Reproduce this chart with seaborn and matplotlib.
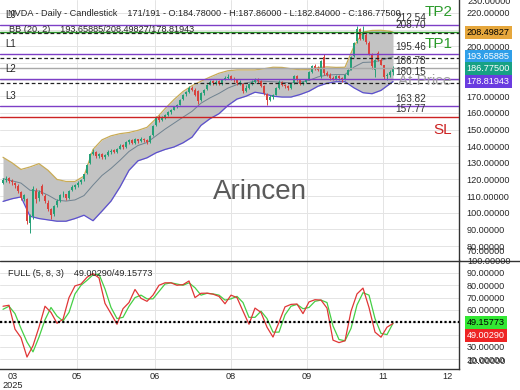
import numpy as np
import pandas as pd
import matplotlib
matplotlib.use("Agg")
import matplotlib.pyplot as plt
from matplotlib.lines import Line2D
from matplotlib.transforms import blended_transform_factory
import seaborn as sns

# ---------------- data ----------------
bar_open = [118.0, 119.5, 121.0, 119.0, 118.0, 116.0, 112.5, 108.0, 108.0, 94.0,
            98.0, 113.0, 109.0, 116.0, 110.0, 106.0, 102.0, 99.0, 104.5, 107.5,
            111.0, 111.0, 109.0, 113.5, 115.5, 116.5, 118.5, 120.0, 124.0, 130.0,
            135.5, 136.5, 134.0, 135.5, 133.5, 134.5, 136.5, 137.5, 136.5, 138.5,
            140.5, 139.5, 142.5, 143.5, 142.0, 144.0, 143.0, 144.5, 143.5, 142.5,
            146.5, 152.5, 157.5, 155.5, 157.5, 159.0, 160.5, 162.0, 164.0, 165.0,
            168.5, 171.5, 172.5, 175.0, 174.0, 173.0, 167.5, 172.0, 174.5, 177.0,
            179.0, 178.0, 179.0, 177.5, 180.0, 181.0, 182.0, 180.0, 179.5, 178.0,
            177.5, 173.0, 175.0, 177.5, 178.5, 180.0, 179.0, 176.0, 171.5, 168.0,
            169.5, 171.0, 175.0, 178.5, 177.0, 176.0, 175.0, 178.0, 182.0, 180.0,
            177.5, 178.5, 180.5, 184.5, 188.0, 187.0, 182.0, 193.5, 184.0, 182.8,
            181.0, 180.5, 182.0, 181.0, 180.0, 183.0, 186.0, 194.0, 203.0, 210.5,
            204.5, 207.0, 202.0, 195.5, 186.0, 196.0, 192.0, 188.5, 182.0, 183.0,
            184.78]
bar_high = [121.0, 122.0, 121.5, 120.0, 118.5, 117.0, 113.0, 111.5, 109.0, 99.5,
            116.0, 115.0, 113.5, 117.5, 111.5, 107.5, 103.0, 104.5, 108.0, 111.5,
            113.0, 111.5, 113.5, 116.5, 117.5, 119.0, 120.5, 123.5, 129.5, 136.0,
            138.0, 137.0, 136.0, 136.0, 135.5, 137.5, 138.0, 138.5, 139.0, 141.0,
            141.5, 143.0, 144.5, 144.0, 145.0, 144.5, 145.5, 145.0, 144.0, 146.5,
            152.5, 158.0, 158.5, 158.0, 159.5, 161.0, 162.5, 164.0, 165.5, 168.5,
            171.5, 173.0, 176.0, 176.0, 175.0, 174.0, 172.5, 174.5, 177.5, 179.5,
            180.0, 179.5, 180.0, 180.5, 182.0, 183.5, 182.5, 181.5, 180.0, 179.5,
            178.0, 177.0, 178.0, 179.5, 181.0, 181.0, 179.5, 176.5, 172.0, 170.5,
            171.5, 175.5, 179.5, 179.0, 177.5, 176.5, 178.0, 183.0, 183.0, 180.5,
            179.0, 180.5, 185.0, 188.5, 189.5, 188.0, 192.0, 195.5, 185.0, 184.0,
            182.0, 183.0, 182.5, 181.5, 183.5, 186.5, 194.0, 202.5, 212.2, 211.0,
            212.0, 208.0, 203.0, 196.0, 192.5, 197.0, 193.0, 189.0, 184.0, 186.0,
            187.86]
bar_low = [117.0, 118.5, 118.0, 116.5, 115.0, 112.0, 107.5, 107.0, 93.5, 88.0,
           96.0, 106.0, 107.0, 110.5, 106.0, 101.0, 96.5, 98.0, 103.5, 106.5,
           109.5, 107.5, 108.5, 113.0, 114.5, 115.5, 117.0, 119.0, 123.5, 129.5,
           134.5, 133.0, 133.0, 132.5, 132.5, 134.0, 135.5, 136.0, 136.0, 138.0,
           138.5, 139.0, 141.5, 141.0, 141.5, 142.0, 142.5, 142.5, 141.0, 142.0,
           146.0, 152.0, 154.5, 155.0, 156.5, 158.0, 159.5, 161.5, 163.0, 164.5,
           168.0, 170.0, 172.0, 173.0, 170.0, 165.5, 167.0, 171.0, 174.0, 176.5,
           177.0, 177.0, 176.5, 177.0, 179.5, 180.5, 179.5, 178.5, 177.0, 176.5,
           172.0, 172.5, 174.5, 177.0, 178.0, 178.0, 175.5, 171.0, 165.0, 167.0,
           168.5, 170.5, 174.5, 176.0, 175.0, 173.5, 174.5, 177.5, 179.0, 176.5,
           176.5, 178.0, 180.0, 184.0, 186.0, 185.0, 181.0, 183.0, 182.0, 180.0,
           179.5, 180.0, 180.0, 178.5, 179.5, 182.5, 185.5, 193.5, 202.0, 203.5,
           204.0, 201.5, 194.5, 186.5, 181.5, 191.0, 188.5, 180.5, 179.5, 181.5,
           182.84]
bar_close = [119.5, 120.5, 119.0, 118.6, 116.5, 113.0, 108.6, 110.5, 95.0, 98.0,
             114.5, 108.0, 112.5, 111.0, 107.0, 102.0, 98.5, 104.0, 107.0, 110.5,
             111.5, 108.6, 113.0, 115.5, 116.5, 118.0, 119.5, 123.0, 128.5, 135.3,
             136.5, 134.0, 135.5, 133.5, 134.5, 136.5, 137.0, 136.5, 138.3, 140.0,
             139.5, 142.4, 143.5, 142.0, 144.0, 143.0, 144.5, 143.5, 142.5, 146.0,
             152.0, 157.0, 155.5, 157.5, 159.0, 160.3, 162.0, 163.5, 165.0, 168.0,
             171.0, 172.5, 175.0, 174.0, 171.0, 167.0, 172.0, 174.0, 177.0, 178.7,
             178.0, 178.5, 177.5, 180.0, 181.0, 181.6, 180.0, 179.5, 178.0, 178.5,
             173.0, 175.0, 177.5, 178.5, 180.0, 179.0, 176.0, 172.0, 168.0, 169.5,
             171.0, 175.0, 178.7, 176.9, 176.0, 175.0, 177.5, 182.0, 180.0, 177.5,
             178.5, 180.0, 184.5, 188.0, 187.0, 185.8, 191.0, 184.0, 182.8, 181.0,
             180.5, 182.0, 181.0, 180.0, 182.8, 185.8, 193.5, 201.8, 210.5, 204.5,
             208.0, 202.4, 195.5, 188.0, 191.5, 192.0, 189.0, 181.5, 183.0, 184.6,
             186.775]

bb_index = [0, 3, 6, 9, 12, 15, 18, 21, 24, 27, 30, 33, 36, 39, 42, 45, 48, 51, 54, 57,
            60, 63, 66, 69, 72, 75, 78, 81, 84, 87, 90, 93, 96, 99, 102, 105, 108, 111,
            114, 117, 120, 123, 126, 129, 130]
bb_upper = [133.3, 130.0, 126.0, 127.5, 129.5, 125.5, 120.0, 118.8, 118.8, 122.0,
            138.0, 143.8, 146.2, 147.5, 148.2, 149.5, 151.3, 156.5, 162.5, 168.0,
            172.8, 176.3, 179.0, 181.5, 183.8, 185.3, 185.8, 185.8, 185.8, 186.5,
            187.4, 187.3, 186.5, 185.9, 186.0, 187.2, 187.6, 187.3, 187.4, 200.0,
            208.5, 209.5, 209.6, 209.0, 208.49827]
bb_middle = [120.5, 119.2, 117.8, 113.5, 113.0, 110.6, 107.5, 107.0, 107.7, 110.3,
             116.6, 122.4, 126.6, 131.5, 136.8, 140.4, 142.2, 146.2, 150.2, 153.8,
             157.4, 160.9, 165.8, 169.0, 171.7, 174.9, 177.0, 177.9, 179.1, 179.0,
             178.7, 178.4, 178.0, 178.5, 179.5, 181.6, 182.7, 183.0, 183.0, 187.5,
             190.3, 190.5, 191.5, 193.2, 193.65885]
bb_lower = [106.8, 108.4, 109.5, 97.9, 96.5, 95.7, 94.9, 94.9, 96.5, 98.5,
            95.2, 101.0, 107.0, 115.5, 125.5, 131.2, 133.0, 136.0, 138.0, 139.5,
            142.0, 145.4, 152.5, 156.5, 159.5, 164.5, 168.3, 170.0, 172.4, 171.5,
            170.0, 169.5, 169.5, 171.0, 173.0, 176.0, 177.8, 178.7, 178.7, 175.0,
            172.1, 171.5, 173.5, 177.5, 178.81943]

stoch_index = list(range(0, 131, 2))
stoch_k = [63, 63.8, 44.4, 37.5, 21.8, 31, 46, 63, 58, 49.2,
           52.4, 70, 79.5, 81, 86.5, 89.5, 86, 65.3, 57, 48.4,
           61, 66, 76.6, 69.4, 67, 72, 80, 82, 82, 80,
           80.5, 83.5, 70, 73.5, 73.6, 72.8, 71, 65, 72, 70,
           59, 48.4, 61.5, 58, 46, 38, 50, 62.5, 64.5, 64.8,
           57, 66.5, 68.3, 68, 61.5, 35.5, 33.5, 35, 58.9, 73,
           77.7, 62, 42, 37.9, 46, 49.0029]
stoch_d = [60.5, 63, 57, 45, 34, 26, 38, 52, 62, 55,
           51, 58, 73, 80, 84, 88.5, 89, 77, 62, 53,
           54, 63, 70, 72, 69, 69, 75, 81, 82, 81,
           80, 82, 78, 72, 73.5, 73, 72, 68, 69, 71,
           66, 54, 54, 59, 53, 42, 42, 56, 63, 64.5,
           61, 62, 67, 68, 66, 47, 36, 35, 45, 64,
           74, 72, 53, 41, 40, 49.15773]

level_names = ["L0", "L1", "L2", "L3"]
level_values = [212.54, 195.46, 180.15, 163.82]
tp2_value = 208.70
price_value = 186.78
sl_value = 157.77
bb_last = [193.65885, 208.49827, 178.81943]
last_close = 186.775
stoch_last = [49.00290, 49.15773]

xtick_pos = [3.33, 24.67, 50.67, 76.0, 101.33, 126.67, 148.0]
xtick_labels = ["03\n2025", "05", "06", "08", "09", "11", "12"]
price_ticks = [80, 90, 100, 110, 120, 130, 140, 150, 160, 170, 200, 220]
stoch_ticks = [20, 30, 60, 70, 80, 90]

title = ("NVDA - Daily - Candlestick    171/191 - O:184.78000 - H:187.86000 - "
         "L:182.84000 - C:186.77500")

# ---------------- style ----------------
sns.set_theme(style="white")
plt.rcParams['font.family'] = ['Liberation Sans', 'DejaVu Sans']

W, H = 520, 390
def fx(x): return x / W
def fy(y): return 1 - y / H

UP, DOWN = '#25a077', '#d9433e'
TXT = '#262626'
FS = 6.6

fig = plt.figure(figsize=(5.2, 3.9), dpi=100)
fig.patch.set_facecolor('white')
ax = fig.add_axes([0, 130 / H, 459 / W, 260 / H])
ax2 = fig.add_axes([0, 21 / H, 459 / W, 109 / H])
for a in (ax, ax2):
    a.set_facecolor('white')
    for s in ('top', 'left'):
        a.spines[s].set_visible(False)
    a.spines['right'].set_color('#333333')
    a.spines['right'].set_linewidth(1.0)
ax.spines['bottom'].set_visible(False)
ax2.spines['bottom'].set_color('#333333')
ax2.spines['bottom'].set_linewidth(1.0)

# grids
for v in range(80, 230, 10):
    ax.axhline(v, color='#e4e4e4', lw=0.7, zorder=0)
for v in range(20, 100, 10):
    ax2.axhline(v, color='#e4e4e4', lw=0.7, zorder=0)
for p in xtick_pos[1:-1]:
    ax.axvline(p, color='#e4e4e4', lw=0.7, zorder=0)
    ax2.axvline(p, color='#e4e4e4', lw=0.7, zorder=0)

# Bollinger band
bb = pd.DataFrame({'i': bb_index, 'upper': bb_upper, 'middle': bb_middle, 'lower': bb_lower})
ax.fill_between(bb['i'], bb['lower'], bb['upper'], color='#c3c3c3', lw=0, zorder=1)
sns.lineplot(data=bb, x='i', y='upper', ax=ax, color='#c9ab55', linewidth=0.9, zorder=2)
sns.lineplot(data=bb, x='i', y='lower', ax=ax, color='#5b4fcf', linewidth=0.9, zorder=2)
sns.lineplot(data=bb, x='i', y='middle', ax=ax, color='#6f8290', linewidth=0.7, zorder=2)

# candles
df = pd.DataFrame({'o': bar_open, 'h': bar_high, 'l': bar_low, 'c': bar_close})
df['i'] = np.arange(len(df))
cols = np.where(df['c'] >= df['o'], UP, DOWN)
ax.vlines(df['i'], df['l'], df['h'], colors=cols, lw=0.7, zorder=3)
body = (df['c'] - df['o']).abs().clip(lower=0.35)
ax.bar(df['i'], body, bottom=np.minimum(df['o'], df['c']), width=0.62,
       color=cols, linewidth=0, zorder=4)

# horizontal levels
for v in level_values:
    ax.axhline(v, color='#7d3fc6', lw=1.0, zorder=5)
ax.axhline(tp2_value, color='#2b9a2b', lw=1.0, zorder=5)
ax.axhline(price_value, color='#a8a8a8', lw=1.0, zorder=5)
ax.axhline(sl_value, color='#cc2222', lw=1.0, zorder=5)
for v in bb_last:
    ax.axhline(v - 0.6, color='#222222', lw=0.9, ls=(0, (3, 2)), zorder=5)

bt = blended_transform_factory(ax.transAxes, ax.transData)
for name, v in zip(level_names, level_values):
    ax.annotate(name, xy=(0, v), xycoords=bt, xytext=(4, 7.2), textcoords='offset points',
                fontsize=FS + 0.4, color=TXT, va='center', ha='left', zorder=7)
for v in level_values + [tp2_value, price_value, sl_value]:
    ax.annotate(f"{v:.2f}", xy=(395 / 459, v), xycoords=bt, xytext=(0, 5.2),
                textcoords='offset points', fontsize=FS + 0.6, color='#333333',
                va='center', ha='left', zorder=7)

# big labels
fig.text(fx(439), fy(12), "TP2", color='#2b9a2b', fontsize=11, ha='center', va='center')
fig.text(fx(439), fy(44), "TP1", color='#2b9a2b', fontsize=11, ha='center', va='center')
fig.text(fx(425), fy(81), "At Price", color='#a0a0a0', fontsize=11, ha='center', va='center')
fig.text(fx(443), fy(130), "SL", color='#cc2222', fontsize=11, ha='center', va='center')
fig.text(fx(260), fy(192), "Arincen", color='#5a5a5a', fontsize=20, ha='center', va='center')

# header texts
fig.text(fx(8), fy(13), title, fontsize=FS, color=TXT, ha='left', va='center')
fig.text(fx(9), fy(29), "BB (20, 2)    193.65885/208.49827/178.81943", fontsize=FS,
         color=TXT, ha='left', va='center')
fig.text(fx(8), fy(273), "FULL (5, 8, 3)    49.00290/49.15773", fontsize=FS,
         color=TXT, ha='left', va='center')

# main axis scales
ax.set_xlim(-1, 152)
ax.set_ylim(71.6, 227.8)
ax.yaxis.tick_right()
ax.set_yticks(price_ticks)
ax.set_yticklabels([f"{v:.5f}" for v in price_ticks])
ax.tick_params(axis='y', length=0, pad=5.6, labelsize=FS, labelcolor=TXT)
ax.tick_params(axis='x', bottom=False, labelbottom=False)
ax.set_xlabel(''); ax.set_ylabel('')
fig.text(fx(467), fy(1), "230.00000", fontsize=FS, color=TXT, ha='left', va='center')
fig.text(fx(467), fy(252), "70.00000", fontsize=FS, color=TXT, ha='left', va='center')

# stochastic
st = pd.DataFrame({'i': stoch_index, 'k': stoch_k, 'd': stoch_d})
ax2.axhline(50, color='black', lw=1.6, ls=(0, (1, 1)), zorder=4)
sns.lineplot(data=st, x='i', y='d', ax=ax2, color='#45cf45', linewidth=0.9, zorder=2)
sns.lineplot(data=st, x='i', y='k', ax=ax2, color='#e03636', linewidth=0.9, zorder=3)
ax2.set_xlim(-1, 152)
ax2.set_ylim(12.1, 100.5)
ax2.yaxis.tick_right()
ax2.set_yticks(stoch_ticks)
ax2.set_yticklabels([f"{v:.5f}" for v in stoch_ticks])
ax2.tick_params(axis='y', length=0, pad=5.6, labelsize=FS, labelcolor=TXT)
ax2.set_xticks(xtick_pos)
ax2.set_xticklabels(xtick_labels)
ax2.tick_params(axis='x', length=0, pad=2.2, labelsize=FS, labelcolor=TXT)
for lab in ax2.get_xticklabels():
    lab.set_linespacing(0.95)
ax2.set_xlabel(''); ax2.set_ylabel('')
fig.text(fx(467), fy(262), "100.00000", fontsize=FS, color=TXT, ha='left', va='center')
fig.text(fx(467), fy(362), "10.00000", fontsize=FS, color=TXT, ha='left', va='center')

# separator line between panels
fig.add_artist(Line2D([0, 1], [fy(260.5), fy(260.5)], transform=fig.transFigure,
                      color='#333333', lw=1.0))

# value boxes on the price scale
bt_r = blended_transform_factory(ax.transAxes, ax.transData)
boxes = [(bb_last[1], '#e6a73c', 'black'), (bb_last[0], '#2f9fe9', 'white'),
         (last_close, '#17a184', 'white'), (bb_last[2], '#6a3ce0', 'white')]
for v, fc, tc in boxes:
    ax.annotate(f"{v:.5f}", xy=(1, v), xycoords=bt_r, xytext=(7.4 * 0.72 + 0.3, 0),
                textcoords='offset points', fontsize=FS, color=tc, ha='left', va='center',
                bbox=dict(boxstyle='square,pad=0.22', fc=fc, ec='none'),
                annotation_clip=False, zorder=10)
fig.text(fx(467), fy(322.5), f"{stoch_last[1]:.5f}", fontsize=FS, color='black',
         ha='left', va='center', bbox=dict(boxstyle='square,pad=0.22', fc='#33e833', ec='none'))
fig.text(fx(467), fy(335.5), f"{stoch_last[0]:.5f}", fontsize=FS, color='white',
         ha='left', va='center', bbox=dict(boxstyle='square,pad=0.22', fc='#ee2424', ec='none'))

fig.savefig("out.png", dpi=100, facecolor='white')
